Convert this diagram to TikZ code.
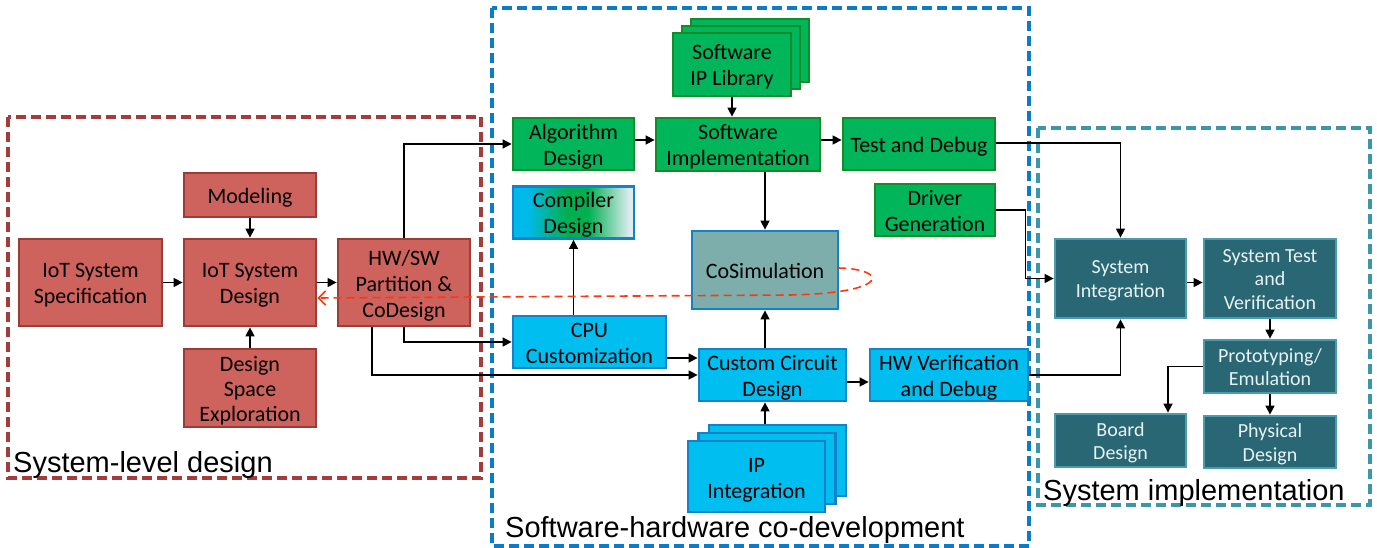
\documentclass[tikz,border=0pt]{standalone}
\usepackage{fontspec}
\setmainfont{Carlito}
\newfontfamily\arialf{Liberation Sans}
\usetikzlibrary{arrows.meta,calc}

% palette
\definecolor{redfill}{RGB}{205,99,92}
\definecolor{redline}{RGB}{155,60,55}
\definecolor{reddash}{RGB}{165,60,60}
\definecolor{grnfill}{RGB}{0,181,90}
\definecolor{grnline}{RGB}{20,140,40}
\definecolor{blufill}{RGB}{0,190,240}
\definecolor{bluline}{RGB}{20,130,200}
\definecolor{bludash}{RGB}{10,125,200}
\definecolor{cosimfill}{RGB}{126,174,172}
\definecolor{tealfill}{RGB}{42,103,117}
\definecolor{tealline}{RGB}{75,155,175}
\definecolor{tealdash}{RGB}{60,150,170}
\definecolor{tealtext}{RGB}{232,242,242}
\definecolor{loopred}{RGB}{255,55,15}
\definecolor{cmpA}{RGB}{0,185,235}
\definecolor{cmpB}{RGB}{0,176,80}
\definecolor{cmpC}{RGB}{220,236,240}

% cyan -> green -> pale fill of the compiler box
\pgfdeclarehorizontalshading{cmpgrad}{100bp}{color(0bp)=(cmpA); color(31bp)=(cmpA); color(47bp)=(cmpB); color(56bp)=(cmpB); color(73bp)=(cmpC); color(100bp)=(cmpC)}

% fixed line struts, so every text line sits at the same spot in its box
\newcommand\strA{\rule[-4.5pt]{0pt}{26pt}}
\newcommand\strB{\rule[-4.5pt]{0pt}{23.5pt}}
\newcommand\strC{\rule[-4pt]{0pt}{25pt}}

\tikzset{
  box/.style={rectangle, line width=2.8pt, align=center, inner sep=0pt,
              font=\fontsize{22}{26}\selectfont},
  sz/.style 2 args={minimum width=#1pt, minimum height=#2pt},
  redbox/.style={box, fill=redfill, draw=redline},
  grnbox/.style={box, fill=grnfill, draw=grnline},
  blubox/.style={box, fill=blufill, draw=bluline},
  cmpbox/.style={box, draw=bluline, shade, shading=cmpgrad},
  simbox/.style={box, fill=cosimfill, draw=bluline},
  tealbox/.style={box, fill=tealfill, draw=tealline, text=tealtext,
                  font=\fontsize{20}{23.5}\selectfont},
  region/.style={line width=3.2pt, dash pattern=on 10pt off 5pt},
  conn/.style={line width=1.5pt, -{Triangle[length=9pt,width=9pt]}},
  loop/.style={draw=loopred, line width=1.6pt, dash pattern=on 8pt off 5pt,
               -{Straight Barb[length=7pt,width=14pt]}},
  regionlabel/.style={font=\arialf\fontsize{29}{34}\selectfont,
                      anchor=base west, inner sep=0pt}
}

\begin{document}
\begin{tikzpicture}[x=1pt,y=-1pt]
\useasboundingbox (0,0) rectangle (1377,548);

% design-phase regions
\draw[region, draw=reddash]  (8,117)   rectangle (481,478);
\draw[region, draw=bludash]  (492,8)   rectangle (1029,546);
\draw[region, draw=tealdash] (1038,128) rectangle (1370,505);

% system-level design
\node[redbox, sz={143}{87}] (spec)  at (90.5,282.5) {\strA IoT System\\\strA Specification};
\node[redbox, sz={132}{44}] (model) at (250,195)    {\strA Modeling};
\node[redbox, sz={132}{87}] (design) at (250,282.5) {\strA IoT System\\\strA Design};
\node[redbox, sz={132}{87}] (hwsw)  at (404,282.5)  {\strA HW/SW\\\strA Partition \&\\\strA CoDesign};
\node[redbox, sz={132}{78}, font=\fontsize{22}{25}\selectfont] (dse) at (250,388)
     {\strC Design\\\strC Space\\\strC Exploration};

% software-hardware co-development
\node[grnbox, sz={118}{63}] (swip3) at (750,50.5) {};
\node[grnbox, sz={118}{63}] (swip2) at (741,57.5) {};
\node[grnbox, sz={118}{63}] (swip)  at (732,64.5) {\strA Software\\\strA IP Library};
\node[grnbox, sz={121}{52}] (alg)    at (573.5,144) {\strA Algorithm\\\strA Design};
\node[grnbox, sz={164}{53}] (swimpl) at (738,144.5) {\strA Software\\\strA Implementation};
\node[grnbox, sz={152}{52}] (test)   at (919,144)   {\strA Test and Debug};
\node[grnbox, sz={120}{52}] (driver) at (935,210)   {\strA Driver\\\strA Generation};
\node[cmpbox, sz={121}{51}] (compiler) at (573.5,212.5) {\strA Compiler\\\strA Design};
\node[simbox, sz={146}{78}] (cosim)  at (765,270)   {\strA CoSimulation};
\node[blubox, sz={153}{52}] (cpu)    at (589.5,342) {\strA CPU\\\strA Customization};
\node[blubox, sz={147}{52}] (ccd)    at (772.5,375) {\strA Custom Circuit\\\strA Design};
\node[blubox, sz={158}{52}] (hwv)    at (949,375)   {\strA HW Verification\\\strA and Debug};
\node[blubox, sz={137}{71}] (ip3) at (777.5,460.5) {};
\node[blubox, sz={137}{71}] (ip2) at (767,468.5)   {};
\node[blubox, sz={137}{71}] (ip)  at (756.5,476.5) {\strA IP\\\strA Integration};

% system implementation
\node[tealbox, sz={131}{79}] (si)    at (1120.5,278.5) {\strB System\\\strB Integration};
\node[tealbox, sz={132}{79}] (stv)   at (1270,278.5)   {\strB System Test\\\strB and\\\strB Verification};
\node[tealbox, sz={132}{53}] (proto) at (1270,366.5)   {\strB Prototyping/\\\strB Emulation};
\node[tealbox, sz={131}{53}] (board) at (1120.5,440.5) {\strB Board\\\strB Design};
\node[tealbox, sz={132}{52}] (phys)  at (1270,442)     {\strB Physical\\\strB Design};

% region titles
\node[regionlabel] (lblsys)  at (13,472)   {System-level design};
\node[regionlabel] (lblsw)   at (505,537)  {Software-hardware co-development};
\node[regionlabel] (lblimpl) at (1043,500) {System implementation};

% flow inside system-level design
\draw[conn] (spec.east) -- (design.west);
\draw[conn] (model.south) -- (design.north);
\draw[conn] (dse.north) -- (design.south);
\draw[conn] (design.east) -- (hwsw.west);

% partition outputs
\draw[conn] (hwsw.north) |- (alg.west);
\draw[conn] (hwsw.south) |- (cpu.west);
\draw[conn] ($(hwsw.south)+(-32,0)$) |- (ccd.west);

% software path
\draw[conn] ($(alg.east)+(0,-4)$) -- ($(swimpl.west)+(0,-4.5)$);
\draw[conn] (swip.south) -- (swip.south |- swimpl.north);
\draw[conn] ($(swimpl.east)+(0,-4.5)$) -- ($(test.west)+(0,-4)$);
\draw[conn] (swimpl.south -| cosim.north) -- (cosim.north);

% hardware path
\draw[conn] (cpu.north -| compiler.south) -- (compiler.south);
\draw[conn] ($(cpu.east)+(0,16)$) -- ($(ccd.west)+(0,-17)$);
\draw[conn] (ccd.north -| cosim.south) -- (cosim.south);
\draw[conn] (ip3.north -| cosim.south) -- (ccd.south -| cosim.south);
\draw[conn] ($(ccd.east)+(0,7)$) -- ($(hwv.west)+(0,7)$);

% into system integration
\draw[conn] ($(test.east)+(0,-1)$) -| (si.north);
\draw[conn] (driver.east) -- ++(29,0) |- (si.west);
\draw[conn] (hwv.east) -| (si.south);
\draw[conn] ($(si.east)+(0,4)$) -- ($(stv.west)+(0,4)$);
\draw[conn] (stv.south) -- (proto.north);
\draw[conn] (proto.west) -| ($(board.north)+(47.5,0)$);
\draw[conn] (proto.south) -- (phys.north);

% co-simulation feedback loop
\draw[loop] ($(cosim.east)+(-1,-2)$) .. controls (888,269) and (892,293) .. (790,295)
            -- ($(design.east)+(0,15.5)$);
\end{tikzpicture}
\end{document}
